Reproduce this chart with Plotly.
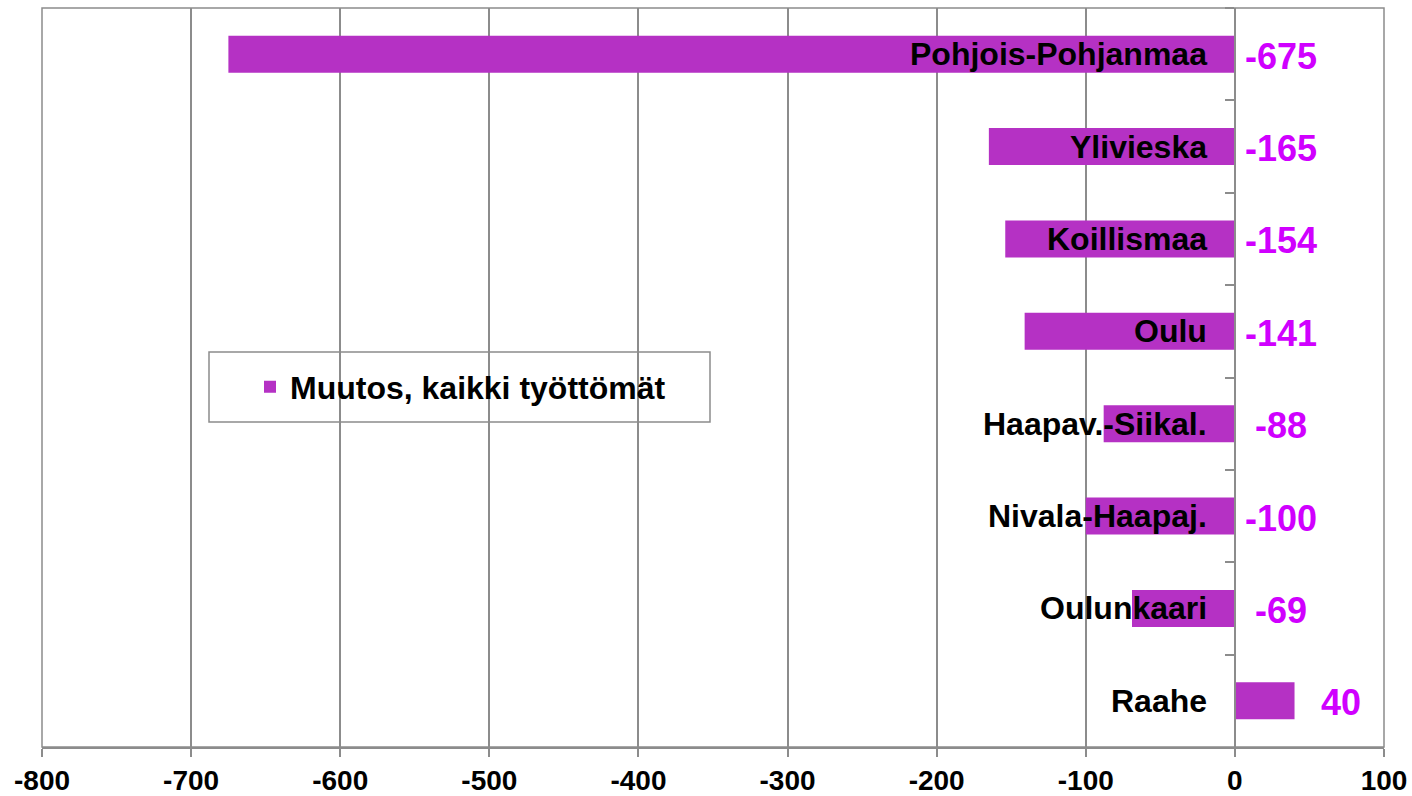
import plotly.graph_objects as go

categories = ["Pohjois-Pohjanmaa", "Ylivieska", "Koillismaa", "Oulu",
              "Haapav.-Siikal.", "Nivala-Haapaj.", "Oulunkaari", "Raahe"]
values = [-675, -165, -154, -141, -88, -100, -69, 40]
series_name = "Muutos, kaikki työttömät"
x_ticks = [-800, -700, -600, -500, -400, -300, -200, -100, 0, 100]

BAR = "#B531C4"
LABEL = "#D000FF"
GRID = "#8C8C8C"
FONT = "Liberation Sans, Arial, sans-serif"

xmin, xmax = -800, 100

fig = go.Figure()
fig.add_trace(go.Bar(
    y=categories, x=values, orientation="h", name=series_name,
    marker=dict(color=BAR, line=dict(width=0)),
    showlegend=True, width=0.4,
))

# category labels (right-aligned to the left of the zero axis)
for c in categories:
    fig.add_annotation(x=0, y=c, text=f"<b>{c}</b>", showarrow=False,
                       xanchor="right", yanchor="middle", xshift=-26,
                       font=dict(family=FONT, size=32, color="black"))
# value labels
for c, v in zip(categories, values):
    fig.add_annotation(x=max(v, 0), y=c, text=f"<b>{v}</b>", showarrow=False,
                       xanchor="center", yanchor="middle", xshift=46, yshift=-2,
                       font=dict(family=FONT, size=36, color=LABEL))

# legend frame
fig.add_shape(type="rect", xref="paper", yref="paper",
              x0=(209 - 42) / 1342, x1=(710 - 42) / 1342,
              y0=(747 - 422) / 739, y1=(747 - 352) / 739,
              line=dict(color=GRID, width=1.5), fillcolor="rgba(0,0,0,0)")
# plot border
fig.add_shape(type="rect", xref="paper", yref="paper", x0=0, x1=1, y0=0, y1=1,
              line=dict(color=GRID, width=1.5), fillcolor="rgba(0,0,0,0)")

fig.update_layout(
    template="none",
    width=1412, height=796,
    margin=dict(l=42, r=28, t=8, b=49, autoexpand=False),
    paper_bgcolor="white", plot_bgcolor="white",
    bargap=0.6,
    font=dict(family=FONT, color="black"),
    showlegend=True,
    legend=dict(x=(250 - 42) / 1342, y=(747 - 387) / 739, xanchor="left", yanchor="middle",
                bgcolor="rgba(0,0,0,0)", borderwidth=0,
                font=dict(family=FONT, size=32, color="black", weight="bold")),
    xaxis=dict(range=[xmin, xmax], tickvals=x_ticks, ticktext=[f"<b>{t}</b>" for t in x_ticks],
               automargin=False,
               showgrid=True, gridcolor=GRID, gridwidth=1.5, zeroline=False,
               showline=True, linecolor=GRID, linewidth=1.5,
               ticks="outside", ticklen=8, tickcolor=GRID, tickwidth=1.5,
               tickfont=dict(family=FONT, size=28, color="black")),
    yaxis=dict(categoryorder="array", categoryarray=categories, autorange="reversed",
               anchor="free", position=(0 - xmin) / (xmax - xmin), automargin=False,
               showticklabels=False, showgrid=False, zeroline=False,
               showline=True, linecolor=GRID, linewidth=1.5,
               ticks="outside", tickson="boundaries", ticklen=9, tickcolor=GRID, tickwidth=1.5),
)

fig.write_html("out.html", config={"displayModeBar": False},
               post_script="document.body.style.margin='0';document.body.style.overflow='hidden';")
